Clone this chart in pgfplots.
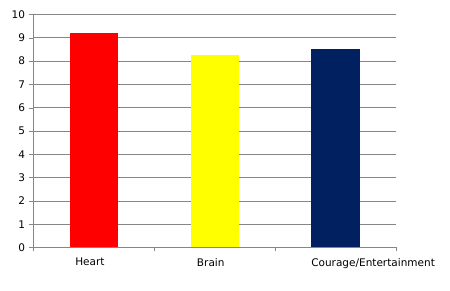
\documentclass[border=0pt]{standalone}
\usepackage{pgfplots}
\pgfplotsset{compat=1.18}
\usepackage{fontspec}
\setmainfont{DejaVu Sans}
\definecolor{gridgray}{HTML}{868686}
\definecolor{navy}{HTML}{002060}
\definecolor{barred}{HTML}{FF0000}
\definecolor{baryellow}{HTML}{FFFF00}
\begin{document}
\begin{tikzpicture}
\path[use as bounding box] (-33.5pt,-43.5pt) rectangle (416.5pt,247.5pt);
\begin{axis}[
  at={(0,0)}, anchor=south west,
  scale only axis,
  width=362.5pt, height=233pt,
  xmin=-0.5, xmax=2.5,
  ymin=0, ymax=10,
  ytick={0,1,...,10},
  xtick={0,1,2},
  xticklabels={{Heart\hspace*{8pt}},{Brain\hspace*{8pt}},{\hspace*{75pt}Courage/Entertainment}},
  minor xtick={-0.5,0.5,1.5,2.5},
  major x tick style={draw=none},
  minor x tick style={draw=gridgray},
  tick align=outside,
  major tick length=4pt,
  minor tick length=4pt,
  axis x line*=bottom,
  axis y line*=left,
  axis line style={draw=gridgray, -},
  ytick style={draw=gridgray},
  ymajorgrids,
  major grid style={draw=gridgray, line width=0.6pt},
  tick label style={font=\fontsize{10.5}{12}\selectfont, text=black},
  yticklabel style={xshift=-1pt},
  /pgf/number format/assume math mode=true,
  xticklabel style={yshift=-3pt},
  ybar, bar width=0.4, bar shift=0pt,
]
\addplot[fill=barred, draw=none] coordinates {(0,9.2)};
\addplot[fill=baryellow, draw=none] coordinates {(1,8.25)};
\addplot[fill=navy, draw=none] coordinates {(2,8.5)};
\end{axis}
\end{tikzpicture}
\end{document}
